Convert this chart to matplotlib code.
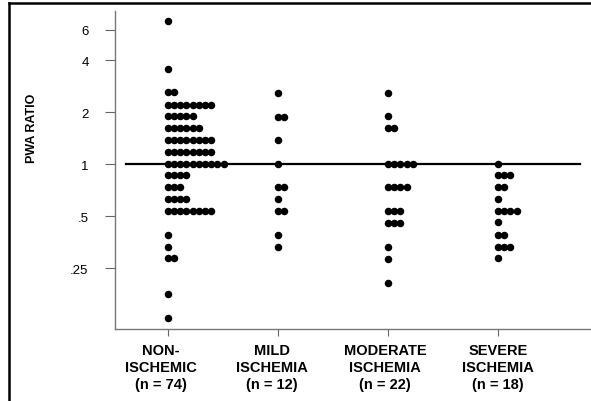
import matplotlib.pyplot as plt
from matplotlib.lines import Line2D
import matplotlib.transforms as mtrans
import numpy as np

plt.rcParams['font.family'] = ['Liberation Sans', 'DejaVu Sans']

# group labels and PWA ratio rows: (value, number of dots in that row)
groups = ["NON-\nISCHEMIC\n(n = 74)", "MILD\nISCHEMIA\n(n = 12)",
          "MODERATE\nISCHEMIA\n(n = 22)", "SEVERE\nISCHEMIA\n(n = 18)"]

non_vals = [6.7, 3.55, 2.6, 2.2, 1.89, 1.62, 1.38, 1.18, 1.0, 0.864, 0.733, 0.627, 0.532, 0.388, 0.331, 0.285, 0.176, 0.128]
non_cnt = [1, 1, 2, 8, 5, 6, 8, 8, 10, 4, 3, 4, 8, 1, 1, 2, 1, 1]

mild_vals = [2.58, 1.88, 1.38, 1.0, 0.733, 0.627, 0.532, 0.39, 0.332]
mild_cnt = [1, 2, 1, 1, 2, 1, 2, 1, 1]

mod_vals = [2.59, 1.89, 1.61, 1.0, 0.733, 0.532, 0.455, 0.332, 0.282, 0.206]
mod_cnt = [1, 1, 2, 5, 4, 3, 3, 1, 1, 1]

sev_vals = [1.0, 0.867, 0.736, 0.627, 0.533, 0.464, 0.39, 0.333, 0.285]
sev_cnt = [1, 3, 2, 1, 4, 1, 2, 3, 1]

yticks = [0.25, 0.5, 1, 2, 4, 6]
ytick_labels = [".25", ".5", "1", "2", "4", "6"]

fig = plt.figure(figsize=(5.91, 4.02), dpi=100)
ax = fig.add_axes([115/591, 1-330/402, 1-115/591, (330-12)/402])

step = 0.0564
for i, (vals, cnt) in enumerate([(non_vals, non_cnt), (mild_vals, mild_cnt),
                                 (mod_vals, mod_cnt), (sev_vals, sev_cnt)]):
    xs, ys = [], []
    for v, c in zip(vals, cnt):
        for k in range(c):
            xs.append(i + k*step)
            ys.append(v)
    ax.plot(xs, ys, 'o', color='black', ms=4.4, mec='black', zorder=3)

ax.plot([-0.38, 3.745], [1, 1], color='black', lw=1.6, zorder=2)

ax.set_yscale('log')
ax.set_ylim(0.111, 7.7)
ax.set_xlim(-0.48, 3.845)
ax.set_yticks(yticks)
ax.set_yticklabels(ytick_labels, fontsize=9.5)
ax.minorticks_off()
ax.set_xticks(range(4))
ax.set_xticklabels(groups, fontsize=10.5, fontweight='bold', linespacing=1.3, va='top')
ax.tick_params(axis='y', length=7, width=0.8, color='#666', pad=12)
ax.tick_params(axis='x', length=5, width=0.8, color='#666', pad=5)

# the printed labels sit a little left of their ticks
shifts = [-7, -6, -3, 0]
for lab, dx in zip(ax.get_xticklabels(), shifts):
    lab.set_transform(lab.get_transform() + mtrans.ScaledTranslation(dx/100, 0, fig.dpi_scale_trans))

for s in ['top', 'right']:
    ax.spines[s].set_visible(False)
for s in ['left', 'bottom']:
    ax.spines[s].set_color('#777')
    ax.spines[s].set_linewidth(1)

fig.text(32/591, 1-128/402, "PWA RATIO", rotation=90, ha='center', va='center',
         fontsize=9, fontweight='bold')

# outer frame (top and left only)
fig.add_artist(Line2D([9/591, 1], [1-4/402, 1-4/402], color='black', lw=1.8))
fig.add_artist(Line2D([9/591, 9/591], [0, 1-4/402], color='black', lw=1.8))

fig.savefig("out.png", dpi=100)
